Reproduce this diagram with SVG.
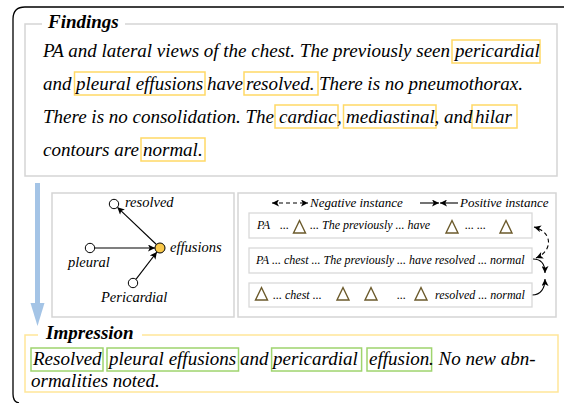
<svg xmlns="http://www.w3.org/2000/svg" width="564" height="403" viewBox="0 0 564 403">
<style>
.t{font-family:"Liberation Serif","Times New Roman",serif;font-style:italic;fill:#000}
.main{font-size:19px}
.title{font-size:19px;font-weight:bold}
.lg{font-size:13px}
.gl{font-size:14.5px}
.rw{font-size:12px}
.hy{fill:none;stroke:#ffd966;stroke-width:1.5}
.hg{fill:none;stroke:#9fd46e;stroke-width:1.5}
.gbox{fill:none;stroke:#d5d5d5;stroke-width:1.5}
.rbox{fill:#fff;stroke:#d9d9d9;stroke-width:1.3}
.tri{fill:none;stroke:#6b5a2b;stroke-width:1.4;stroke-linejoin:miter}
.edge{fill:none;stroke:#000;stroke-width:1.1}
.node{fill:#fff;stroke:#000;stroke-width:1}
</style>
<defs>
<marker id="ah" viewBox="0 0 10 10" refX="10" refY="5" markerWidth="9" markerHeight="7" orient="auto-start-reverse" markerUnits="userSpaceOnUse">
<path d="M0,0 L10,5 L0,10 L2.5,5 z" fill="#000"/>
</marker>
</defs>

<!-- outer frame -->
<path d="M564 7 H25 Q13 7 13 19 V394 Q13 402 19 403" fill="none" stroke="#000" stroke-width="1.3"/>

<g id="findings">
<path d="M42 24 H25 V176 H557 V24 H125" class="gbox"/>
<text class="t title" x="48" y="28">Findings</text>
<rect class="hy" x="452" y="40" width="88" height="23"/>
<rect class="hy" x="74.5" y="72" width="130.5" height="23"/>
<rect class="hy" x="244" y="72" width="74" height="23"/>
<rect class="hy" x="275" y="105" width="63" height="23"/>
<rect class="hy" x="343.5" y="105" width="92.5" height="23"/>
<rect class="hy" x="472" y="105" width="45" height="23"/>
<rect class="hy" x="141" y="138" width="64" height="23"/>
<text class="t main" y="57"><tspan x="43">PA and lateral views of the chest. The previously seen</tspan><tspan x="455">pericardial</tspan></text>
<text class="t main" y="90"><tspan x="43">and</tspan><tspan x="76">pleural effusions</tspan><tspan x="207">have</tspan><tspan x="246">resolved.</tspan><tspan x="319">There is no pneumothorax.</tspan></text>
<text class="t main" y="123"><tspan x="43">There is no consolidation. The</tspan><tspan x="279">cardiac</tspan><tspan x="337">,</tspan><tspan x="346">mediastinal</tspan><tspan x="434.5">, and</tspan><tspan x="475">hilar</tspan></text>
<text class="t main" y="156"><tspan x="43">contours are</tspan><tspan x="143">normal.</tspan></text>
</g>

<g id="flow-arrow">
<rect x="35" y="183" width="5" height="121" fill="#a4c4e6"/>
<polygon points="30.5,303 44.5,303 37.5,326" fill="#a4c4e6"/>
</g>

<g id="graph-panel">
<rect class="gbox" x="52" y="193" width="182" height="124"/>
</g>

<g id="connectors">
<line class="edge" x1="95" y1="248" x2="155" y2="248" marker-end="url(#ah)"/>
<line class="edge" x1="156.4" y1="244.5" x2="117.4" y2="207.3" marker-end="url(#ah)"/>
<line class="edge" x1="135.9" y1="279.3" x2="156.9" y2="252" marker-end="url(#ah)"/>
<path class="edge" d="M536 258 C553 251 553 232 534 227" stroke-dasharray="4 3" marker-start="url(#ah)" marker-end="url(#ah)"/>
<path class="edge" d="M533 259 C542 259 545 265 545 273" marker-end="url(#ah)"/>
<path class="edge" d="M532 295 C541 295 545 288 545 279" marker-end="url(#ah)"/>
</g>

<g id="node-resolved">
<circle class="node" cx="114" cy="204" r="4.7"/>
<text class="t gl" x="125" y="207">resolved</text>
</g>
<g id="node-effusions">
<circle cx="160" cy="248" r="5" fill="#f9c84a" stroke="#000" stroke-width="1"/>
<text class="t gl" x="170" y="252">effusions</text>
</g>
<g id="node-pleural">
<circle class="node" cx="90" cy="248" r="4.7"/>
<text class="t gl" x="68" y="267">pleural</text>
</g>
<g id="node-pericardial">
<circle class="node" cx="133" cy="283" r="4.7"/>
<text class="t gl" x="101" y="302">Pericardial</text>
</g>

<g id="instance-panel">
<rect class="gbox" x="238" y="193" width="318" height="124"/>
<line class="edge" x1="272" y1="203" x2="308" y2="203" stroke-dasharray="4 3" marker-start="url(#ah)" marker-end="url(#ah)"/>
<text class="t lg" x="310" y="207">Negative instance</text>
<line class="edge" x1="420" y1="203" x2="439" y2="203" marker-end="url(#ah)"/>
<line class="edge" x1="458" y1="203" x2="440" y2="203" marker-end="url(#ah)"/>
<text class="t lg" x="460" y="207">Positive instance</text>
</g>

<g id="row1">
<rect class="rbox" x="249" y="213" width="283" height="25"/>
<text class="t rw" y="229"><tspan x="257">PA</tspan><tspan x="280">...</tspan><tspan x="310">... The previously ... have</tspan><tspan x="465">... ...</tspan></text>
<polygon class="tri" points="293.5,233 305.5,233 299.5,220.5"/>
<polygon class="tri" points="446,233 458,233 452,220.5"/>
<polygon class="tri" points="500,233 512,233 506,220.5"/>
</g>
<g id="row2">
<rect class="rbox" x="249" y="248" width="283" height="25"/>
<text class="t rw" x="256" y="264">PA ... chest ... The previously ... have resolved ... normal</text>
</g>
<g id="row3">
<rect class="rbox" x="249" y="283" width="283" height="24"/>
<text class="t rw" y="299"><tspan x="273">... chest ...</tspan><tspan x="397">...</tspan><tspan x="435">resolved ... normal</tspan></text>
<polygon class="tri" points="255.5,300 267.5,300 261.5,287.5"/>
<polygon class="tri" points="337,300 349,300 343,287.5"/>
<polygon class="tri" points="365,300 377,300 371,287.5"/>
<polygon class="tri" points="415,300 427,300 421,287.5"/>
</g>

<g id="impression">
<path d="M38 335 H25 V392 H558 V335 H142" fill="none" stroke="#ffe699" stroke-width="1.5"/>
<text class="t title" x="46" y="339">Impression</text>
<rect class="hg" x="31" y="348" width="72" height="23"/>
<rect class="hg" x="107" y="348" width="131.5" height="23"/>
<rect class="hg" x="271.6" y="348" width="90" height="23"/>
<rect class="hg" x="367" y="348" width="64.6" height="23"/>
<text class="t main" y="365"><tspan x="33">Resolved</tspan><tspan x="109">pleural effusions</tspan><tspan x="240">and</tspan><tspan x="273">pericardial</tspan><tspan x="369">effusion</tspan><tspan x="429">. No new abn-</tspan></text>
<text class="t main" x="31" y="387">ormalities noted.</text>
</g>
</svg>
